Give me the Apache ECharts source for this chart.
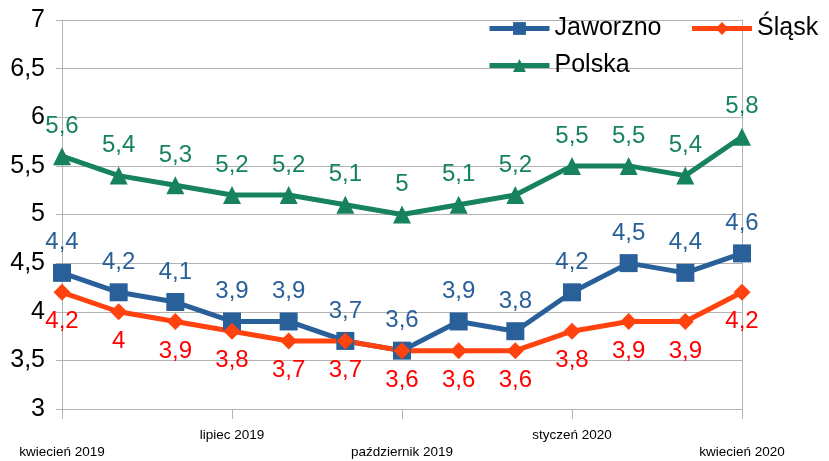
<!DOCTYPE html>
<html>
<head>
<meta charset="utf-8">
<script src="https://cdn.jsdelivr.net/npm/echarts@6/dist/echarts.min.js"></script>
<style>
  html, body { margin: 0; padding: 0; background: #fff; }
  #container { width: 829px; height: 461px; }
</style>
</head>
<body>
<div id="container"></div>
<script>
var months = ['kwiecień 2019', 'maj 2019', 'czerwiec 2019', 'lipiec 2019', 'sierpień 2019',
    'wrzesień 2019', 'październik 2019', 'listopad 2019', 'grudzień 2019', 'styczeń 2020',
    'luty 2020', 'marzec 2020', 'kwiecień 2020'];
var jaworzno = [4.4, 4.2, 4.1, 3.9, 3.9, 3.7, 3.6, 3.9, 3.8, 4.2, 4.5, 4.4, 4.6];
var slask = [4.2, 4.0, 3.9, 3.8, 3.7, 3.7, 3.6, 3.6, 3.6, 3.8, 3.9, 3.9, 4.2];
var polska = [5.6, 5.4, 5.3, 5.2, 5.2, 5.1, 5.0, 5.1, 5.2, 5.5, 5.5, 5.4, 5.8];

var font = 'Liberation Sans, Arial, sans-serif';

function commaFmt(v) {
    return String(v).replace('.', ',');
}

function makeSeries(name, data, color, labelColor, symbol, size, pos) {
    return {
        name: name,
        type: 'line',
        data: data,
        symbol: symbol,
        symbolSize: size,
        lineStyle: { color: color, width: 5 },
        itemStyle: { color: color },
        label: {
            show: true,
            position: pos,
            distance: 9,
            color: labelColor,
            fontFamily: font,
            fontSize: 24,
            formatter: function (p) { return commaFmt(p.value); }
        },
        animation: false
    };
}

// legend look shared by both legend blocks
function legendBlock(names, top) {
    return {
        left: 487,
        top: top,
        padding: 0,
        itemWidth: 60,
        itemHeight: 16,
        itemGap: 28,
        lineStyle: { width: 5 },
        textStyle: { fontFamily: font, fontSize: 25, color: '#000' },
        data: names
    };
}

var myChart = echarts.init(document.getElementById('container'));

myChart.setOption({
    backgroundColor: '#ffffff',
    animation: false,
    grid: { left: 62, right: 87, top: 20, bottom: 52, containLabel: false },
    legend: [
        legendBlock(['Jaworzno', 'Śląsk'], 16),
        legendBlock(['Polska'], 53)
    ],
    xAxis: {
        type: 'category',
        data: months,
        boundaryGap: false,
        axisLine: { lineStyle: { color: '#b3b3b3', width: 1 } },
        axisTick: {
            show: true,
            length: 10,
            lineStyle: { color: '#b3b3b3' },
            interval: function (i) { return i % 3 === 0; }
        },
        axisLabel: {
            interval: function (i) { return i % 3 === 0; },
            fontFamily: font,
            fontSize: 13.5,
            lineHeight: 17,
            color: '#000',
            margin: 18,
            formatter: function (v, i) {
                return (i / 3) % 2 === 0 ? '\n' + v : v;
            }
        },
        splitLine: { show: false }
    },
    yAxis: [{
        type: 'value',
        min: 3,
        max: 7,
        interval: 0.5,
        axisLine: { show: true, lineStyle: { color: '#b3b3b3' } },
        axisTick: { show: true, length: 6, lineStyle: { color: '#b3b3b3' } },
        axisLabel: {
            fontFamily: font,
            fontSize: 25,
            color: '#000',
            margin: 17,
            formatter: commaFmt
        },
        splitLine: { lineStyle: { color: '#b3b3b3', width: 1 } }
    }, {
        type: 'value',
        min: 3,
        max: 7,
        interval: 0.5,
        position: 'right',
        axisLine: { show: true, lineStyle: { color: '#b3b3b3' } },
        axisTick: { show: false },
        axisLabel: { show: false },
        splitLine: { show: false }
    }],
    series: [
        makeSeries('Jaworzno', jaworzno, '#2a6099', '#2a6099', 'rect', 18, 'top'),
        makeSeries('Śląsk', slask, '#ff420e', '#ff0000', 'diamond', 17, 'bottom'),
        makeSeries('Polska', polska, '#168260', '#168260', 'triangle', 18, 'top')
    ]
});
</script>
</body>
</html>
